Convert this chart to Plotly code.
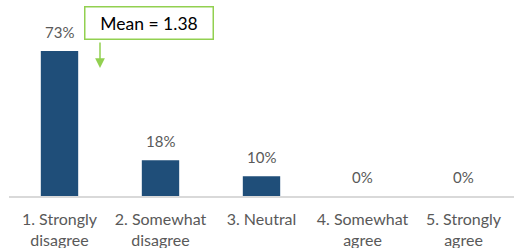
import plotly.graph_objects as go

categories = ["1. Strongly<br>disagree", "2. Somewhat<br>disagree", "3. Neutral",
              "4. Somewhat<br>agree", "5. Strongly<br>agree"]
values = [73, 18, 10, 0, 0]
labels = ["73%", "18%", "10%", "0%", "0%"]
mean_text = "Mean = 1.38"

FONT = "Lato, Open Sans, sans-serif"
GRAY = "#595959"
GREEN = "#92D050"

fig = go.Figure()
fig.add_trace(go.Bar(
    x=categories, y=values,
    marker=dict(color="#1F4E79", line=dict(width=0)),
    hoverinfo="skip",
))

for c, v, t in zip(categories, values, labels):
    fig.add_annotation(x=c, y=v, text=t, showarrow=False,
                       yanchor="bottom", yshift=8,
                       font=dict(family=FONT, size=15, color=GRAY))

# Mean box
fig.add_annotation(xref="paper", yref="paper", x=0.2772, y=0.8827,
                   text=mean_text, showarrow=False,
                   xanchor="center", yanchor="middle",
                   width=127, height=31, borderpad=0,
                   bordercolor=GREEN, borderwidth=1.5, bgcolor="white",
                   font=dict(family=FONT, size=17.5, color="black"))
# Arrow
fig.add_annotation(xref="paper", yref="paper", x=0.1802, y=0.653,
                   text="", showarrow=True, ax=0, ay=-27,
                   arrowhead=2, arrowsize=1.3, arrowwidth=1.5,
                   arrowcolor=GREEN, standoff=0)

fig.update_layout(
    width=518, height=248,
    margin=dict(l=9, r=4, t=0, b=52),
    paper_bgcolor="white", plot_bgcolor="white",
    bargap=0.63, showlegend=False, hovermode=False,
    font=dict(family=FONT, size=16, color=GRAY),
)
fig.update_xaxes(showline=True, linecolor="#D9D9D9", linewidth=1.5,
                 ticks="", showgrid=False, automargin=False,
                 ticklabelstandoff=8,
                 tickfont=dict(family=FONT, size=16, color=GRAY))
fig.update_yaxes(visible=False, range=[0, 98.7], showgrid=False)

fig.write_html("out.html", config={"displayModeBar": False},
               post_script="document.body.style.margin='0';")
